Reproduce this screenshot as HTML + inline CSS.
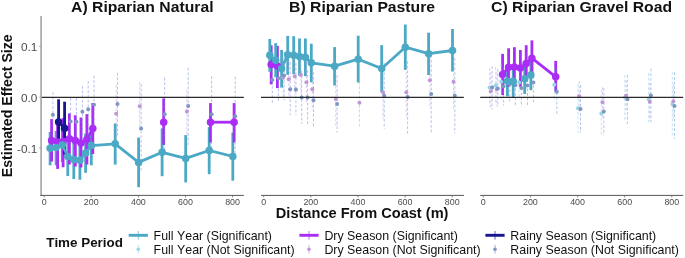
<!DOCTYPE html>
<html><head><meta charset="utf-8"><title>Estimated Effect Size by Distance From Coast</title>
<style>
html,body{margin:0;padding:0;background:#fff;}
svg{display:block;font-family:"Liberation Sans",Arial,sans-serif;font-kerning:none;}
</style></head>
<body>
<svg width="685" height="258" viewBox="0 0 685 258">
<rect width="685" height="258" fill="#fff"/>
<line x1="50.1" y1="132.0" x2="50.1" y2="165.3" stroke="#4BA9C5" stroke-width="2.8" />
<line x1="56.1" y1="131.0" x2="56.1" y2="165.3" stroke="#4BA9C5" stroke-width="2.8" />
<line x1="62.3" y1="128.6" x2="62.3" y2="162.0" stroke="#4BA9C5" stroke-width="2.8" />
<line x1="67.8" y1="137.1" x2="67.8" y2="176.0" stroke="#4BA9C5" stroke-width="2.8" />
<line x1="73.8" y1="140.1" x2="73.8" y2="179.0" stroke="#4BA9C5" stroke-width="2.8" />
<line x1="79.9" y1="141.1" x2="79.9" y2="179.7" stroke="#4BA9C5" stroke-width="2.8" />
<line x1="85.6" y1="133.5" x2="85.6" y2="172.8" stroke="#4BA9C5" stroke-width="2.8" />
<line x1="91.3" y1="131.6" x2="91.3" y2="165.3" stroke="#4BA9C5" stroke-width="2.8" />
<line x1="115.2" y1="123.5" x2="115.2" y2="164.6" stroke="#4BA9C5" stroke-width="2.8" />
<line x1="138.6" y1="137.6" x2="138.6" y2="187.2" stroke="#4BA9C5" stroke-width="2.8" />
<line x1="162.1" y1="128.4" x2="162.1" y2="176.2" stroke="#4BA9C5" stroke-width="2.8" />
<line x1="185.7" y1="135.1" x2="185.7" y2="182.4" stroke="#4BA9C5" stroke-width="2.8" />
<line x1="209.2" y1="127.1" x2="209.2" y2="174.2" stroke="#4BA9C5" stroke-width="2.8" />
<line x1="232.8" y1="132.6" x2="232.8" y2="180.7" stroke="#4BA9C5" stroke-width="2.8" />
<line x1="51.6" y1="119.1" x2="51.6" y2="161.5" stroke="#AA2DF5" stroke-width="2.8" />
<line x1="57.6" y1="121.1" x2="57.6" y2="168.9" stroke="#AA2DF5" stroke-width="2.8" />
<line x1="63.1" y1="118.1" x2="63.1" y2="167.3" stroke="#AA2DF5" stroke-width="2.8" />
<line x1="69.4" y1="113.4" x2="69.4" y2="164.5" stroke="#AA2DF5" stroke-width="2.8" />
<line x1="75.3" y1="115.3" x2="75.3" y2="166.5" stroke="#AA2DF5" stroke-width="2.8" />
<line x1="81.0" y1="117.5" x2="81.0" y2="167.5" stroke="#AA2DF5" stroke-width="2.8" />
<line x1="86.9" y1="114.1" x2="86.9" y2="164.5" stroke="#AA2DF5" stroke-width="2.8" />
<line x1="92.8" y1="103.0" x2="92.8" y2="154.0" stroke="#AA2DF5" stroke-width="2.8" />
<line x1="163.7" y1="98.4" x2="163.7" y2="144.9" stroke="#AA2DF5" stroke-width="2.8" />
<line x1="210.5" y1="103.1" x2="210.5" y2="142.4" stroke="#AA2DF5" stroke-width="2.8" />
<line x1="234.1" y1="103.1" x2="234.1" y2="142.4" stroke="#AA2DF5" stroke-width="2.8" />
<line x1="58.6" y1="99.3" x2="58.6" y2="145.5" stroke="#17158F" stroke-width="2.8" />
<line x1="64.6" y1="101.7" x2="64.6" y2="154.6" stroke="#17158F" stroke-width="2.8" />
<line x1="271.2" y1="45.3" x2="271.2" y2="84.4" stroke="#AA2DF5" stroke-width="2.8" />
<line x1="277.4" y1="45.9" x2="277.4" y2="88.1" stroke="#AA2DF5" stroke-width="2.8" />
<line x1="269.8" y1="39.0" x2="269.8" y2="71.7" stroke="#4BA9C5" stroke-width="2.8" />
<line x1="275.7" y1="43.1" x2="275.7" y2="77.3" stroke="#4BA9C5" stroke-width="2.8" />
<line x1="281.6" y1="49.9" x2="281.6" y2="87.6" stroke="#4BA9C5" stroke-width="2.8" />
<line x1="287.7" y1="35.9" x2="287.7" y2="74.8" stroke="#4BA9C5" stroke-width="2.8" />
<line x1="293.7" y1="36.2" x2="293.7" y2="74.2" stroke="#4BA9C5" stroke-width="2.8" />
<line x1="299.5" y1="38.5" x2="299.5" y2="75.7" stroke="#4BA9C5" stroke-width="2.8" />
<line x1="305.4" y1="38.5" x2="305.4" y2="76.1" stroke="#4BA9C5" stroke-width="2.8" />
<line x1="311.3" y1="43.7" x2="311.3" y2="82.3" stroke="#4BA9C5" stroke-width="2.8" />
<line x1="334.6" y1="47.1" x2="334.6" y2="85.5" stroke="#4BA9C5" stroke-width="2.8" />
<line x1="358.2" y1="35.7" x2="358.2" y2="82.5" stroke="#4BA9C5" stroke-width="2.8" />
<line x1="381.7" y1="45.1" x2="381.7" y2="92.4" stroke="#4BA9C5" stroke-width="2.8" />
<line x1="405.3" y1="24.5" x2="405.3" y2="69.9" stroke="#4BA9C5" stroke-width="2.8" />
<line x1="428.6" y1="32.7" x2="428.6" y2="75.0" stroke="#4BA9C5" stroke-width="2.8" />
<line x1="452.5" y1="29.0" x2="452.5" y2="71.5" stroke="#4BA9C5" stroke-width="2.8" />
<line x1="507.4" y1="66.1" x2="507.4" y2="96.4" stroke="#4BA9C5" stroke-width="2.8" />
<line x1="513.2" y1="66.1" x2="513.2" y2="97.0" stroke="#4BA9C5" stroke-width="2.8" />
<line x1="524.7" y1="64.1" x2="524.7" y2="93.9" stroke="#4BA9C5" stroke-width="2.8" />
<line x1="530.9" y1="60.1" x2="530.9" y2="90.1" stroke="#4BA9C5" stroke-width="2.8" />
<line x1="502.6" y1="53.9" x2="502.6" y2="95.1" stroke="#AA2DF5" stroke-width="2.8" />
<line x1="508.6" y1="48.3" x2="508.6" y2="86.5" stroke="#AA2DF5" stroke-width="2.8" />
<line x1="514.4" y1="47.2" x2="514.4" y2="86.5" stroke="#AA2DF5" stroke-width="2.8" />
<line x1="520.4" y1="50.0" x2="520.4" y2="87.0" stroke="#AA2DF5" stroke-width="2.8" />
<line x1="526.2" y1="45.2" x2="526.2" y2="81.5" stroke="#AA2DF5" stroke-width="2.8" />
<line x1="531.9" y1="40.4" x2="531.9" y2="75.5" stroke="#AA2DF5" stroke-width="2.8" />
<line x1="555.7" y1="60.9" x2="555.7" y2="91.4" stroke="#AA2DF5" stroke-width="2.8" />
<polyline fill="none" stroke="#4BA9C5" stroke-width="2.8" stroke-linejoin="round" points="50.1,148.3 56.1,147.6 62.3,145.0 67.8,156.4 73.8,159.4 79.9,160.3 85.6,153.0 91.3,145.6 115.2,143.8 138.6,162.4 162.1,152.3 185.7,158.4 209.2,150.5 232.8,156.4"/>
<polyline fill="none" stroke="#AA2DF5" stroke-width="2.8" stroke-linejoin="round" points="51.6,140.6 57.6,141.9 63.1,141.4 69.4,138.8 75.3,140.6 81.0,143.1 86.9,139.4 92.8,128.4"/>
<polyline fill="none" stroke="#AA2DF5" stroke-width="2.8" stroke-linejoin="round" points="210.5,122.2 234.1,122.2"/>
<polyline fill="none" stroke="#17158F" stroke-width="2.8" stroke-linejoin="round" points="58.6,122.0 64.6,128.2"/>
<polyline fill="none" stroke="#AA2DF5" stroke-width="2.8" stroke-linejoin="round" points="271.2,64.5 277.4,65.9"/>
<polyline fill="none" stroke="#4BA9C5" stroke-width="2.8" stroke-linejoin="round" points="269.8,55.2 275.7,60.2 281.6,68.4 287.7,54.7 293.7,55.2 299.5,56.6 305.4,57.2 311.3,62.8 334.6,66.2 358.2,59.2 381.7,68.5 405.3,47.2 428.6,53.7 452.5,50.5"/>
<polyline fill="none" stroke="#4BA9C5" stroke-width="2.8" stroke-linejoin="round" points="507.4,81.2 513.2,81.2"/>
<polyline fill="none" stroke="#4BA9C5" stroke-width="2.8" stroke-linejoin="round" points="524.7,78.7 530.9,75.0"/>
<polyline fill="none" stroke="#AA2DF5" stroke-width="2.8" stroke-linejoin="round" points="502.6,74.4 508.6,67.2 514.4,66.9 520.4,67.9 526.2,63.4 531.9,58.2 555.7,76.8"/>
<line x1="52.9" y1="92.1" x2="52.9" y2="138.5" stroke="#7391DA" stroke-width="0.55" stroke-dasharray="2.8 1.85"/>
<line x1="70.6" y1="98.1" x2="70.6" y2="145.5" stroke="#7391DA" stroke-width="0.55" stroke-dasharray="2.8 1.85"/>
<line x1="76.4" y1="98.1" x2="76.4" y2="146.5" stroke="#7391DA" stroke-width="0.55" stroke-dasharray="2.8 1.85"/>
<line x1="82.4" y1="85.9" x2="82.4" y2="138.5" stroke="#7391DA" stroke-width="0.55" stroke-dasharray="2.8 1.85"/>
<line x1="88.2" y1="81.0" x2="88.2" y2="138.5" stroke="#7391DA" stroke-width="0.55" stroke-dasharray="2.8 1.85"/>
<line x1="94.0" y1="75.5" x2="94.0" y2="134.5" stroke="#7391DA" stroke-width="0.55" stroke-dasharray="2.8 1.85"/>
<line x1="117.5" y1="72.8" x2="117.5" y2="135.5" stroke="#7391DA" stroke-width="0.55" stroke-dasharray="2.8 1.85"/>
<line x1="141.1" y1="84.1" x2="141.1" y2="172.5" stroke="#7391DA" stroke-width="0.55" stroke-dasharray="2.8 1.85"/>
<line x1="164.6" y1="77.7" x2="164.6" y2="150.5" stroke="#7391DA" stroke-width="0.55" stroke-dasharray="2.8 1.85"/>
<line x1="188.2" y1="67.9" x2="188.2" y2="145.5" stroke="#7391DA" stroke-width="0.55" stroke-dasharray="2.8 1.85"/>
<line x1="211.6" y1="76.1" x2="211.6" y2="152.5" stroke="#7391DA" stroke-width="0.55" stroke-dasharray="2.8 1.85"/>
<line x1="235.2" y1="76.6" x2="235.2" y2="156.5" stroke="#7391DA" stroke-width="0.55" stroke-dasharray="2.8 1.85"/>
<line x1="116.2" y1="85.1" x2="116.2" y2="142.5" stroke="#C39FE3" stroke-width="0.55" stroke-dasharray="2.8 1.85"/>
<line x1="139.7" y1="82.2" x2="139.7" y2="130.5" stroke="#C39FE3" stroke-width="0.55" stroke-dasharray="2.8 1.85"/>
<line x1="186.9" y1="89.6" x2="186.9" y2="134.5" stroke="#C39FE3" stroke-width="0.55" stroke-dasharray="2.8 1.85"/>
<line x1="283.1" y1="58.1" x2="283.1" y2="97.5" stroke="#C39FE3" stroke-width="0.55" stroke-dasharray="2.8 1.85"/>
<line x1="288.7" y1="60.1" x2="288.7" y2="98.5" stroke="#C39FE3" stroke-width="0.55" stroke-dasharray="2.8 1.85"/>
<line x1="294.7" y1="57.1" x2="294.7" y2="95.5" stroke="#C39FE3" stroke-width="0.55" stroke-dasharray="2.8 1.85"/>
<line x1="300.9" y1="55.1" x2="300.9" y2="94.5" stroke="#C39FE3" stroke-width="0.55" stroke-dasharray="2.8 1.85"/>
<line x1="306.4" y1="62.1" x2="306.4" y2="102.5" stroke="#C39FE3" stroke-width="0.55" stroke-dasharray="2.8 1.85"/>
<line x1="312.3" y1="68.1" x2="312.3" y2="110.5" stroke="#C39FE3" stroke-width="0.55" stroke-dasharray="2.8 1.85"/>
<line x1="335.8" y1="72.1" x2="335.8" y2="125.5" stroke="#C39FE3" stroke-width="0.55" stroke-dasharray="2.8 1.85"/>
<line x1="359.4" y1="77.1" x2="359.4" y2="128.1" stroke="#C39FE3" stroke-width="0.55" stroke-dasharray="2.8 1.85"/>
<line x1="383.0" y1="66.1" x2="383.0" y2="118.5" stroke="#C39FE3" stroke-width="0.55" stroke-dasharray="2.8 1.85"/>
<line x1="406.3" y1="67.1" x2="406.3" y2="117.5" stroke="#C39FE3" stroke-width="0.55" stroke-dasharray="2.8 1.85"/>
<line x1="429.9" y1="52.1" x2="429.9" y2="108.5" stroke="#C39FE3" stroke-width="0.55" stroke-dasharray="2.8 1.85"/>
<line x1="453.5" y1="55.1" x2="453.5" y2="108.5" stroke="#C39FE3" stroke-width="0.55" stroke-dasharray="2.8 1.85"/>
<line x1="272.3" y1="58.1" x2="272.3" y2="103.3" stroke="#7391DA" stroke-width="0.55" stroke-dasharray="2.8 1.85"/>
<line x1="278.4" y1="56.1" x2="278.4" y2="101.6" stroke="#7391DA" stroke-width="0.55" stroke-dasharray="2.8 1.85"/>
<line x1="284.1" y1="52.1" x2="284.1" y2="100.4" stroke="#7391DA" stroke-width="0.55" stroke-dasharray="2.8 1.85"/>
<line x1="290.2" y1="62.1" x2="290.2" y2="115.2" stroke="#7391DA" stroke-width="0.55" stroke-dasharray="2.8 1.85"/>
<line x1="295.9" y1="63.1" x2="295.9" y2="115.2" stroke="#7391DA" stroke-width="0.55" stroke-dasharray="2.8 1.85"/>
<line x1="301.7" y1="71.1" x2="301.7" y2="123.9" stroke="#7391DA" stroke-width="0.55" stroke-dasharray="2.8 1.85"/>
<line x1="307.6" y1="70.1" x2="307.6" y2="125.2" stroke="#7391DA" stroke-width="0.55" stroke-dasharray="2.8 1.85"/>
<line x1="313.5" y1="72.1" x2="313.5" y2="128.1" stroke="#7391DA" stroke-width="0.55" stroke-dasharray="2.8 1.85"/>
<line x1="337.1" y1="75.1" x2="337.1" y2="132.6" stroke="#7391DA" stroke-width="0.55" stroke-dasharray="2.8 1.85"/>
<line x1="384.2" y1="63.1" x2="384.2" y2="128.9" stroke="#7391DA" stroke-width="0.55" stroke-dasharray="2.8 1.85"/>
<line x1="407.6" y1="61.1" x2="407.6" y2="133.8" stroke="#7391DA" stroke-width="0.55" stroke-dasharray="2.8 1.85"/>
<line x1="431.2" y1="55.1" x2="431.2" y2="133.5" stroke="#7391DA" stroke-width="0.55" stroke-dasharray="2.8 1.85"/>
<line x1="454.8" y1="58.1" x2="454.8" y2="133.5" stroke="#7391DA" stroke-width="0.55" stroke-dasharray="2.8 1.85"/>
<line x1="489.6" y1="68.1" x2="489.6" y2="106.5" stroke="#86CFE0" stroke-width="0.55" stroke-dasharray="2.8 1.85"/>
<line x1="495.6" y1="67.1" x2="495.6" y2="104.5" stroke="#86CFE0" stroke-width="0.55" stroke-dasharray="2.8 1.85"/>
<line x1="501.2" y1="64.1" x2="501.2" y2="100.5" stroke="#86CFE0" stroke-width="0.55" stroke-dasharray="2.8 1.85"/>
<line x1="519.1" y1="66.1" x2="519.1" y2="99.5" stroke="#86CFE0" stroke-width="0.55" stroke-dasharray="2.8 1.85"/>
<line x1="554.3" y1="68.1" x2="554.3" y2="101.5" stroke="#86CFE0" stroke-width="0.55" stroke-dasharray="2.8 1.85"/>
<line x1="578.0" y1="84.1" x2="578.0" y2="132.7" stroke="#86CFE0" stroke-width="0.55" stroke-dasharray="2.8 1.85"/>
<line x1="601.3" y1="90.1" x2="601.3" y2="135.2" stroke="#86CFE0" stroke-width="0.55" stroke-dasharray="2.8 1.85"/>
<line x1="624.9" y1="75.1" x2="624.9" y2="120.5" stroke="#86CFE0" stroke-width="0.55" stroke-dasharray="2.8 1.85"/>
<line x1="648.7" y1="73.1" x2="648.7" y2="122.8" stroke="#86CFE0" stroke-width="0.55" stroke-dasharray="2.8 1.85"/>
<line x1="672.3" y1="72.1" x2="672.3" y2="136.5" stroke="#86CFE0" stroke-width="0.55" stroke-dasharray="2.8 1.85"/>
<line x1="490.8" y1="72.1" x2="490.8" y2="108.5" stroke="#C39FE3" stroke-width="0.55" stroke-dasharray="2.8 1.85"/>
<line x1="496.8" y1="72.1" x2="496.8" y2="106.5" stroke="#C39FE3" stroke-width="0.55" stroke-dasharray="2.8 1.85"/>
<line x1="579.2" y1="81.1" x2="579.2" y2="112.5" stroke="#C39FE3" stroke-width="0.55" stroke-dasharray="2.8 1.85"/>
<line x1="602.5" y1="87.3" x2="602.5" y2="117.5" stroke="#C39FE3" stroke-width="0.55" stroke-dasharray="2.8 1.85"/>
<line x1="626.1" y1="80.1" x2="626.1" y2="111.5" stroke="#C39FE3" stroke-width="0.55" stroke-dasharray="2.8 1.85"/>
<line x1="649.8" y1="83.1" x2="649.8" y2="120.5" stroke="#C39FE3" stroke-width="0.55" stroke-dasharray="2.8 1.85"/>
<line x1="673.4" y1="84.1" x2="673.4" y2="118.5" stroke="#C39FE3" stroke-width="0.55" stroke-dasharray="2.8 1.85"/>
<line x1="492.1" y1="66.1" x2="492.1" y2="109.3" stroke="#7391DA" stroke-width="0.55" stroke-dasharray="2.8 1.85"/>
<line x1="497.8" y1="69.1" x2="497.8" y2="106.8" stroke="#7391DA" stroke-width="0.55" stroke-dasharray="2.8 1.85"/>
<line x1="503.6" y1="67.1" x2="503.6" y2="105.5" stroke="#7391DA" stroke-width="0.55" stroke-dasharray="2.8 1.85"/>
<line x1="509.8" y1="66.1" x2="509.8" y2="103.1" stroke="#7391DA" stroke-width="0.55" stroke-dasharray="2.8 1.85"/>
<line x1="515.4" y1="65.1" x2="515.4" y2="105.5" stroke="#7391DA" stroke-width="0.55" stroke-dasharray="2.8 1.85"/>
<line x1="521.4" y1="69.1" x2="521.4" y2="106.8" stroke="#7391DA" stroke-width="0.55" stroke-dasharray="2.8 1.85"/>
<line x1="527.5" y1="65.1" x2="527.5" y2="106.3" stroke="#7391DA" stroke-width="0.55" stroke-dasharray="2.8 1.85"/>
<line x1="533.4" y1="62.1" x2="533.4" y2="103.1" stroke="#7391DA" stroke-width="0.55" stroke-dasharray="2.8 1.85"/>
<line x1="556.8" y1="69.1" x2="556.8" y2="114.7" stroke="#7391DA" stroke-width="0.55" stroke-dasharray="2.8 1.85"/>
<line x1="580.5" y1="85.1" x2="580.5" y2="132.8" stroke="#7391DA" stroke-width="0.55" stroke-dasharray="2.8 1.85"/>
<line x1="603.8" y1="88.1" x2="603.8" y2="135.3" stroke="#7391DA" stroke-width="0.55" stroke-dasharray="2.8 1.85"/>
<line x1="627.4" y1="74.9" x2="627.4" y2="124.0" stroke="#7391DA" stroke-width="0.55" stroke-dasharray="2.8 1.85"/>
<line x1="650.9" y1="68.7" x2="650.9" y2="122.5" stroke="#7391DA" stroke-width="0.55" stroke-dasharray="2.8 1.85"/>
<line x1="674.5" y1="72.4" x2="674.5" y2="138.9" stroke="#7391DA" stroke-width="0.55" stroke-dasharray="2.8 1.85"/>
<circle cx="52.9" cy="114.8" r="2.0" fill="#7F96C2"/>
<circle cx="70.6" cy="121.5" r="2.0" fill="#7F96C2"/>
<circle cx="76.4" cy="121.7" r="2.0" fill="#7F96C2"/>
<circle cx="82.4" cy="111.8" r="2.0" fill="#7F96C2"/>
<circle cx="88.2" cy="109.3" r="2.0" fill="#7F96C2"/>
<circle cx="94.0" cy="104.7" r="2.0" fill="#7F96C2"/>
<circle cx="117.5" cy="104.0" r="2.0" fill="#7F96C2"/>
<circle cx="141.1" cy="128.6" r="2.0" fill="#7F96C2"/>
<circle cx="164.6" cy="114.2" r="2.0" fill="#7F96C2"/>
<circle cx="188.2" cy="106.0" r="2.0" fill="#7F96C2"/>
<circle cx="211.6" cy="114.2" r="2.0" fill="#7F96C2"/>
<circle cx="235.2" cy="116.2" r="2.0" fill="#7F96C2"/>
<circle cx="116.2" cy="113.8" r="2.0" fill="#C096D9"/>
<circle cx="139.7" cy="106.2" r="2.0" fill="#C096D9"/>
<circle cx="186.9" cy="111.5" r="2.0" fill="#C096D9"/>
<circle cx="283.1" cy="77.7" r="2.0" fill="#C096D9"/>
<circle cx="288.7" cy="79.2" r="2.0" fill="#C096D9"/>
<circle cx="294.7" cy="76.2" r="2.0" fill="#C096D9"/>
<circle cx="300.9" cy="75.0" r="2.0" fill="#C096D9"/>
<circle cx="306.4" cy="82.2" r="2.0" fill="#C096D9"/>
<circle cx="312.3" cy="89.2" r="2.0" fill="#C096D9"/>
<circle cx="335.8" cy="99.0" r="2.0" fill="#C096D9"/>
<circle cx="359.4" cy="102.8" r="2.0" fill="#C096D9"/>
<circle cx="383.0" cy="92.2" r="2.0" fill="#C096D9"/>
<circle cx="406.3" cy="92.2" r="2.0" fill="#C096D9"/>
<circle cx="429.9" cy="80.3" r="2.0" fill="#C096D9"/>
<circle cx="453.5" cy="81.7" r="2.0" fill="#C096D9"/>
<circle cx="272.3" cy="80.0" r="2.0" fill="#7F96C2"/>
<circle cx="278.4" cy="78.3" r="2.0" fill="#7F96C2"/>
<circle cx="284.1" cy="75.5" r="2.0" fill="#7F96C2"/>
<circle cx="290.2" cy="89.2" r="2.0" fill="#7F96C2"/>
<circle cx="295.9" cy="89.5" r="2.0" fill="#7F96C2"/>
<circle cx="301.7" cy="97.5" r="2.0" fill="#7F96C2"/>
<circle cx="307.6" cy="97.5" r="2.0" fill="#7F96C2"/>
<circle cx="313.5" cy="100.3" r="2.0" fill="#7F96C2"/>
<circle cx="337.1" cy="104.0" r="2.0" fill="#7F96C2"/>
<circle cx="384.2" cy="95.8" r="2.0" fill="#7F96C2"/>
<circle cx="407.6" cy="97.0" r="2.0" fill="#7F96C2"/>
<circle cx="431.2" cy="94.0" r="2.0" fill="#7F96C2"/>
<circle cx="454.8" cy="95.8" r="2.0" fill="#7F96C2"/>
<circle cx="489.6" cy="87.5" r="2.0" fill="#97D5E2"/>
<circle cx="495.6" cy="85.5" r="2.0" fill="#97D5E2"/>
<circle cx="501.2" cy="81.8" r="2.0" fill="#97D5E2"/>
<circle cx="519.1" cy="82.5" r="2.0" fill="#97D5E2"/>
<circle cx="554.3" cy="84.7" r="2.0" fill="#97D5E2"/>
<circle cx="578.0" cy="108.3" r="2.0" fill="#97D5E2"/>
<circle cx="601.3" cy="113.5" r="2.0" fill="#97D5E2"/>
<circle cx="624.9" cy="97.3" r="2.0" fill="#97D5E2"/>
<circle cx="648.7" cy="99.2" r="2.0" fill="#97D5E2"/>
<circle cx="672.3" cy="104.0" r="2.0" fill="#97D5E2"/>
<circle cx="490.8" cy="91.3" r="2.0" fill="#C096D9"/>
<circle cx="496.8" cy="89.2" r="2.0" fill="#C096D9"/>
<circle cx="579.2" cy="96.2" r="2.0" fill="#C096D9"/>
<circle cx="602.5" cy="102.2" r="2.0" fill="#C096D9"/>
<circle cx="626.1" cy="95.7" r="2.0" fill="#C096D9"/>
<circle cx="649.8" cy="101.8" r="2.0" fill="#C096D9"/>
<circle cx="673.4" cy="101.2" r="2.0" fill="#C096D9"/>
<circle cx="492.1" cy="87.5" r="2.0" fill="#7F96C2"/>
<circle cx="497.8" cy="88.5" r="2.0" fill="#7F96C2"/>
<circle cx="503.6" cy="86.2" r="2.0" fill="#7F96C2"/>
<circle cx="509.8" cy="84.3" r="2.0" fill="#7F96C2"/>
<circle cx="515.4" cy="85.2" r="2.0" fill="#7F96C2"/>
<circle cx="521.4" cy="88.0" r="2.0" fill="#7F96C2"/>
<circle cx="527.5" cy="85.5" r="2.0" fill="#7F96C2"/>
<circle cx="533.4" cy="82.5" r="2.0" fill="#7F96C2"/>
<circle cx="556.8" cy="91.8" r="2.0" fill="#7F96C2"/>
<circle cx="580.5" cy="109.0" r="2.0" fill="#7F96C2"/>
<circle cx="603.8" cy="111.5" r="2.0" fill="#7F96C2"/>
<circle cx="627.4" cy="99.2" r="2.0" fill="#7F96C2"/>
<circle cx="650.9" cy="95.5" r="2.0" fill="#7F96C2"/>
<circle cx="674.5" cy="106.0" r="2.0" fill="#7F96C2"/>
<circle cx="51.6" cy="140.6" r="3.75" fill="#AA2DF5"/>
<circle cx="57.6" cy="141.9" r="3.75" fill="#AA2DF5"/>
<circle cx="63.1" cy="141.4" r="3.75" fill="#AA2DF5"/>
<circle cx="69.4" cy="138.8" r="3.75" fill="#AA2DF5"/>
<circle cx="75.3" cy="140.6" r="3.75" fill="#AA2DF5"/>
<circle cx="81.0" cy="143.1" r="3.75" fill="#AA2DF5"/>
<circle cx="86.9" cy="139.4" r="3.75" fill="#AA2DF5"/>
<circle cx="92.8" cy="128.4" r="3.75" fill="#AA2DF5"/>
<circle cx="163.7" cy="122.2" r="3.75" fill="#AA2DF5"/>
<circle cx="210.5" cy="122.2" r="3.75" fill="#AA2DF5"/>
<circle cx="234.1" cy="122.2" r="3.75" fill="#AA2DF5"/>
<circle cx="271.2" cy="64.5" r="3.75" fill="#AA2DF5"/>
<circle cx="277.4" cy="65.9" r="3.75" fill="#AA2DF5"/>
<circle cx="502.6" cy="74.4" r="3.75" fill="#AA2DF5"/>
<circle cx="508.6" cy="67.2" r="3.75" fill="#AA2DF5"/>
<circle cx="514.4" cy="66.9" r="3.75" fill="#AA2DF5"/>
<circle cx="520.4" cy="67.9" r="3.75" fill="#AA2DF5"/>
<circle cx="526.2" cy="63.4" r="3.75" fill="#AA2DF5"/>
<circle cx="531.9" cy="58.2" r="3.75" fill="#AA2DF5"/>
<circle cx="555.7" cy="76.8" r="3.75" fill="#AA2DF5"/>
<circle cx="50.1" cy="148.3" r="3.75" fill="#4BA9C5"/>
<circle cx="56.1" cy="147.6" r="3.75" fill="#4BA9C5"/>
<circle cx="62.3" cy="145.0" r="3.75" fill="#4BA9C5"/>
<circle cx="67.8" cy="156.4" r="3.75" fill="#4BA9C5"/>
<circle cx="73.8" cy="159.4" r="3.75" fill="#4BA9C5"/>
<circle cx="79.9" cy="160.3" r="3.75" fill="#4BA9C5"/>
<circle cx="85.6" cy="153.0" r="3.75" fill="#4BA9C5"/>
<circle cx="91.3" cy="145.6" r="3.75" fill="#4BA9C5"/>
<circle cx="115.2" cy="143.8" r="3.75" fill="#4BA9C5"/>
<circle cx="138.6" cy="162.4" r="3.75" fill="#4BA9C5"/>
<circle cx="162.1" cy="152.3" r="3.75" fill="#4BA9C5"/>
<circle cx="185.7" cy="158.4" r="3.75" fill="#4BA9C5"/>
<circle cx="209.2" cy="150.5" r="3.75" fill="#4BA9C5"/>
<circle cx="232.8" cy="156.4" r="3.75" fill="#4BA9C5"/>
<circle cx="269.8" cy="55.2" r="3.75" fill="#4BA9C5"/>
<circle cx="275.7" cy="60.2" r="3.75" fill="#4BA9C5"/>
<circle cx="281.6" cy="68.4" r="3.75" fill="#4BA9C5"/>
<circle cx="287.7" cy="54.7" r="3.75" fill="#4BA9C5"/>
<circle cx="293.7" cy="55.2" r="3.75" fill="#4BA9C5"/>
<circle cx="299.5" cy="56.6" r="3.75" fill="#4BA9C5"/>
<circle cx="305.4" cy="57.2" r="3.75" fill="#4BA9C5"/>
<circle cx="311.3" cy="62.8" r="3.75" fill="#4BA9C5"/>
<circle cx="334.6" cy="66.2" r="3.75" fill="#4BA9C5"/>
<circle cx="358.2" cy="59.2" r="3.75" fill="#4BA9C5"/>
<circle cx="381.7" cy="68.5" r="3.75" fill="#4BA9C5"/>
<circle cx="405.3" cy="47.2" r="3.75" fill="#4BA9C5"/>
<circle cx="428.6" cy="53.7" r="3.75" fill="#4BA9C5"/>
<circle cx="452.5" cy="50.5" r="3.75" fill="#4BA9C5"/>
<circle cx="507.4" cy="81.2" r="3.75" fill="#4BA9C5"/>
<circle cx="513.2" cy="81.2" r="3.75" fill="#4BA9C5"/>
<circle cx="524.7" cy="78.7" r="3.75" fill="#4BA9C5"/>
<circle cx="530.9" cy="75.0" r="3.75" fill="#4BA9C5"/>
<circle cx="58.6" cy="122.0" r="3.75" fill="#17158F"/>
<circle cx="64.6" cy="128.2" r="3.75" fill="#17158F"/>
<line x1="41.0" y1="97.3" x2="243.8" y2="97.3" stroke="#2a2a2a" stroke-width="1.3" />
<line x1="261.0" y1="97.3" x2="463.8" y2="97.3" stroke="#2a2a2a" stroke-width="1.3" />
<line x1="480.2" y1="97.3" x2="683.2" y2="97.3" stroke="#2a2a2a" stroke-width="1.3" />
<line x1="41.1" y1="16" x2="41.1" y2="195.8" stroke="#A3A3A3" stroke-width="1.6"/>
<line x1="39.3" y1="46.4" x2="40.4" y2="46.4" stroke="#777" stroke-width="0.8"/>
<line x1="39.3" y1="97.2" x2="40.4" y2="97.2" stroke="#777" stroke-width="0.8"/>
<line x1="39.3" y1="148.0" x2="40.4" y2="148.0" stroke="#777" stroke-width="0.8"/>
<line x1="40.3" y1="195.4" x2="243.8" y2="195.4" stroke="#555" stroke-width="1"/>
<line x1="44.1" y1="195.4" x2="44.1" y2="197.4" stroke="#666" stroke-width="0.8"/>
<text x="44.1" y="205.0" text-anchor="middle" font-size="8.9" fill="#4d4d4d">0</text>
<line x1="91.2" y1="195.4" x2="91.2" y2="197.4" stroke="#666" stroke-width="0.8"/>
<text x="91.2" y="205.0" text-anchor="middle" font-size="8.9" fill="#4d4d4d">200</text>
<line x1="138.4" y1="195.4" x2="138.4" y2="197.4" stroke="#666" stroke-width="0.8"/>
<text x="138.4" y="205.0" text-anchor="middle" font-size="8.9" fill="#4d4d4d">400</text>
<line x1="185.5" y1="195.4" x2="185.5" y2="197.4" stroke="#666" stroke-width="0.8"/>
<text x="185.5" y="205.0" text-anchor="middle" font-size="8.9" fill="#4d4d4d">600</text>
<line x1="232.6" y1="195.4" x2="232.6" y2="197.4" stroke="#666" stroke-width="0.8"/>
<text x="232.6" y="205.0" text-anchor="middle" font-size="8.9" fill="#4d4d4d">800</text>
<line x1="261" y1="195.4" x2="464" y2="195.4" stroke="#555" stroke-width="1"/>
<line x1="263.7" y1="195.4" x2="263.7" y2="197.4" stroke="#666" stroke-width="0.8"/>
<text x="263.7" y="205.0" text-anchor="middle" font-size="8.9" fill="#4d4d4d">0</text>
<line x1="310.8" y1="195.4" x2="310.8" y2="197.4" stroke="#666" stroke-width="0.8"/>
<text x="310.8" y="205.0" text-anchor="middle" font-size="8.9" fill="#4d4d4d">200</text>
<line x1="358.0" y1="195.4" x2="358.0" y2="197.4" stroke="#666" stroke-width="0.8"/>
<text x="358.0" y="205.0" text-anchor="middle" font-size="8.9" fill="#4d4d4d">400</text>
<line x1="405.1" y1="195.4" x2="405.1" y2="197.4" stroke="#666" stroke-width="0.8"/>
<text x="405.1" y="205.0" text-anchor="middle" font-size="8.9" fill="#4d4d4d">600</text>
<line x1="452.2" y1="195.4" x2="452.2" y2="197.4" stroke="#666" stroke-width="0.8"/>
<text x="452.2" y="205.0" text-anchor="middle" font-size="8.9" fill="#4d4d4d">800</text>
<line x1="480.2" y1="195.4" x2="683.2" y2="195.4" stroke="#555" stroke-width="1"/>
<line x1="483.3" y1="195.4" x2="483.3" y2="197.4" stroke="#666" stroke-width="0.8"/>
<text x="483.3" y="205.0" text-anchor="middle" font-size="8.9" fill="#4d4d4d">0</text>
<line x1="530.4" y1="195.4" x2="530.4" y2="197.4" stroke="#666" stroke-width="0.8"/>
<text x="530.4" y="205.0" text-anchor="middle" font-size="8.9" fill="#4d4d4d">200</text>
<line x1="577.6" y1="195.4" x2="577.6" y2="197.4" stroke="#666" stroke-width="0.8"/>
<text x="577.6" y="205.0" text-anchor="middle" font-size="8.9" fill="#4d4d4d">400</text>
<line x1="624.7" y1="195.4" x2="624.7" y2="197.4" stroke="#666" stroke-width="0.8"/>
<text x="624.7" y="205.0" text-anchor="middle" font-size="8.9" fill="#4d4d4d">600</text>
<line x1="671.8" y1="195.4" x2="671.8" y2="197.4" stroke="#666" stroke-width="0.8"/>
<text x="671.8" y="205.0" text-anchor="middle" font-size="8.9" fill="#4d4d4d">800</text>
<text x="37.4" y="50.9" text-anchor="end" font-size="11.8" fill="#4d4d4d">0.1</text>
<text x="37.4" y="101.8" text-anchor="end" font-size="11.8" fill="#4d4d4d">0.0</text>
<text x="37.4" y="152.6" text-anchor="end" font-size="11.8" fill="#4d4d4d">-0.1</text>
<text transform="translate(142.3,12.3) scale(1.016,1)" text-anchor="middle" font-size="15.5" font-weight="bold" fill="#111">A) Riparian Natural</text>
<text transform="translate(362.1,12.3) scale(1.016,1)" text-anchor="middle" font-size="15.5" font-weight="bold" fill="#111">B) Riparian Pasture</text>
<text transform="translate(581.6,12.3) scale(1.016,1)" text-anchor="middle" font-size="15.5" font-weight="bold" fill="#111">C) Riparian Gravel Road</text>
<text transform="translate(12.4,105.8) rotate(-90) scale(1.01,1)" text-anchor="middle" font-size="14.0" font-weight="bold" fill="#111">Estimated Effect Size</text>
<text transform="translate(275.8,217.6) scale(1.028,1)" text-anchor="start" font-size="14.2" font-weight="bold" fill="#111">Distance From Coast (m)</text>
<text transform="translate(46.2,246.9) scale(1.023,1)" text-anchor="start" font-size="13.1" font-weight="bold" fill="#111">Time Period</text>
<line x1="128.70000000000002" y1="235.3" x2="147.9" y2="235.3" stroke="#4BA9C5" stroke-width="2.9"/>
<line x1="138.3" y1="231" x2="138.3" y2="239.6" stroke="#4BA9C5" stroke-width="0.9" stroke-opacity="0.75"/>
<line x1="138.3" y1="244.8" x2="138.3" y2="253.6" stroke="#97D5E2" stroke-width="0.7"/>
<circle cx="138.3" cy="249.3" r="1.8" fill="#97D5E2"/>
<text transform="translate(153.6,239.75) scale(1.033,1)" text-anchor="start" font-size="12.0" fill="#111">Full Year (Significant)</text>
<text transform="translate(153.6,253.7) scale(1.033,1)" text-anchor="start" font-size="12.0" fill="#111">Full Year (Not Significant)</text>
<line x1="299.4" y1="235.3" x2="318.6" y2="235.3" stroke="#AA2DF5" stroke-width="2.9"/>
<line x1="309" y1="231" x2="309" y2="239.6" stroke="#AA2DF5" stroke-width="0.9" stroke-opacity="0.75"/>
<line x1="309" y1="244.8" x2="309" y2="253.6" stroke="#C096D9" stroke-width="0.7"/>
<circle cx="309" cy="249.3" r="1.8" fill="#C096D9"/>
<text transform="translate(324.4,239.75) scale(1.033,1)" text-anchor="start" font-size="12.0" fill="#111">Dry Season (Significant)</text>
<text transform="translate(324.4,253.7) scale(1.033,1)" text-anchor="start" font-size="12.0" fill="#111">Dry Season (Not Significant)</text>
<line x1="485.4" y1="235.3" x2="504.6" y2="235.3" stroke="#17158F" stroke-width="2.9"/>
<line x1="495" y1="231" x2="495" y2="239.6" stroke="#17158F" stroke-width="0.9" stroke-opacity="0.75"/>
<line x1="495" y1="244.8" x2="495" y2="253.6" stroke="#7F96C2" stroke-width="0.7"/>
<circle cx="495" cy="249.3" r="1.8" fill="#7F96C2"/>
<text transform="translate(510.3,239.75) scale(1.033,1)" text-anchor="start" font-size="12.0" fill="#111">Rainy Season (Significant)</text>
<text transform="translate(510.3,253.7) scale(1.033,1)" text-anchor="start" font-size="12.0" fill="#111">Rainy Season (Not Significant)</text>
</svg>
</body></html>
